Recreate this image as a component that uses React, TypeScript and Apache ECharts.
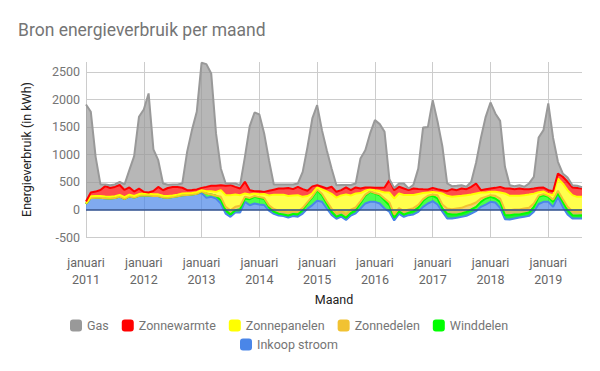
import React, { useEffect, useRef } from 'react';
import * as echarts from 'echarts';

const years = ['2011', '2012', '2013', '2014', '2015', '2016', '2017', '2018', '2019'];
const monthNames = ['januari', 'februari', 'maart', 'april', 'mei', 'juni', 'juli', 'augustus', 'september', 'oktober', 'november', 'december'];
const monthCount = 104;

const inkoopStroom = [
  100, 210, 215, 215, 205, 200, 210, 235, 195, 240, 215, 250,
  260, 255, 245, 245, 220, 215, 225, 240, 260, 265, 270, 285,
  300, 211, 230, 199, 108, -74, -134, -55, -55, 139, 78, 108,
  90, 80, -20, -80, -110, -120, -145, -120, -130, -75, 15, 80,
  158, 140, 18, -100, -170, -130, -190, -110, -70, 18, 110, 140,
  139, 109, 18, -42, -200, -80, -133, -103, -91, -42, 48, 109,
  151, 91, -40, -164, -164, -152, -134, -116, -73, -31, 48, 90,
  139, 127, 30, -176, -182, -164, -146, -134, -116, -42, 100, 139,
  139, 48, 230, 48, -91, -164, -164, -164,
];
const winddelen = [
  0, 0, 0, 0, 0, 0, 0, 0, 0, 0, 0, 0,
  0, 0, 0, 0, 0, 0, 0, 0, 0, 0, 0, 0,
  30, 79, 42, 49, 62, 61, 42, 42, 60, 61, 109, 122,
  120, 110, 60, 40, 35, 30, 35, 40, 45, 70, 100, 140,
  190, 120, 90, 60, 40, 35, 40, 45, 60, 100, 140, 180,
  150, 150, 150, 120, 50, 45, 40, 45, 60, 80, 110, 120,
  97, 109, 60, 89, 73, 61, 61, 73, 73, 79, 91, 109,
  91, 72, 109, 72, 78, 73, 55, 61, 61, 90, 130, 120,
  91, 91, 61, 91, 79, 61, 55, 60,
];
const zonnedelen = [
  0, 0, 0, 0, 0, 0, 0, 0, 0, 0, 0, 0,
  0, 0, 0, 0, 0, 0, 0, 0, 0, 0, 0, 0,
  0, 0, 0, 0, 60, 61, 79, 61, 61, 30, 23, 15,
  15, 20, 35, 50, 55, 60, 55, 55, 45, 35, 20, 15,
  15, 25, 40, 55, 65, 70, 65, 60, 50, 30, 20, 10,
  10, 15, 30, 50, 60, 60, 65, 60, 55, 45, 30, 20,
  24, 60, 70, 93, 97, 109, 103, 109, 90, 79, 60, 31,
  30, 49, 60, 91, 91, 91, 91, 91, 85, 60, 25, 20,
  20, 40, 50, 50, 60, 70, 70, 65,
];
const zonnepanelen = [
  15, 30, 30, 30, 30, 30, 30, 30, 30, 30, 30, 30,
  30, 30, 30, 30, 30, 30, 30, 30, 30, 30, 30, 30,
  20, 43, 61, 72, 121, 212, 273, 224, 194, 60, 62, 45,
  50, 70, 180, 260, 290, 300, 300, 280, 300, 200, 110, 60,
  40, 80, 180, 270, 280, 280, 360, 260, 250, 150, 70, 40,
  50, 60, 110, 180, 290, 265, 290, 260, 240, 200, 110, 60,
  48, 49, 200, 230, 224, 224, 218, 194, 182, 163, 109, 78,
  61, 73, 109, 303, 261, 248, 248, 242, 242, 180, 60, 50,
  30, 81, 223, 284, 303, 293, 269, 269,
];
const zonnewarmte = [
  30, 70, 80, 110, 190, 160, 170, 180, 130, 130, 80, 100,
  30, 25, 60, 135, 100, 145, 155, 140, 105, 55, 55, 50,
  43, 78, 97, 110, 91, 170, 182, 139, 121, 212, 79, 43,
  55, 40, 85, 90, 110, 110, 145, 115, 150, 140, 95, 125,
  39, 47, 54, 127, 106, 96, 125, 96, 110, 84, 60, 30,
  45, 60, 92, 225, 150, 122, 120, 89, 118, 90, 70, 55,
  73, 60, 61, 85, 139, 109, 133, 109, 139, 182, 43, 61,
  60, 72, 103, 91, 133, 121, 133, 109, 97, 93, 80, 70,
  71, 73, 90, 121, 152, 140, 160, 150,
];
const gas = [
  1764, 1465, 631, 100, 30, 50, 45, 55, 100, 315, 644, 1304,
  1498, 1799, 756, 486, 123, 60, 45, 45, 78, 697, 1087, 1410,
  2272, 2230, 2042, 952, 303, 43, 31, 62, 61, 454, 1163, 1430,
  1397, 1062, 556, 95, 75, 75, 65, 85, 63, 314, 798, 1234,
  1454, 1030, 696, 333, 121, 94, 45, 94, 73, 545, 678, 982,
  1230, 1157, 1011, 18, 40, 61, 91, 30, 68, 370, 1122, 1136,
  1594, 1231, 799, 140, 55, 79, 59, 43, 92, 378, 949, 1315,
  1564, 1352, 1199, 395, 61, 55, 61, 43, 104, 213, 914, 1043,
  1576, 967, 213, 61, 79, 40, 40, 25,
];

const yTicks = [-500, 0, 500, 1000, 1500, 2000, 2500];

const categories: string[] = [];
for (let i = 0; i < monthCount; i++) {
  categories.push(monthNames[i % 12] + ' ' + years[Math.floor(i / 12)]);
}

const seriesDefs = [
  { name: 'Inkoop stroom', data: inkoopStroom, color: '#4a86e8' },
  { name: 'Winddelen', data: winddelen, color: '#00ff00' },
  { name: 'Zonnedelen', data: zonnedelen, color: '#f1c232' },
  { name: 'Zonnepanelen', data: zonnepanelen, color: '#ffff00' },
  { name: 'Zonnewarmte', data: zonnewarmte, color: '#ff0000' },
  { name: 'Gas', data: gas, color: '#999999' },
];

export default function App() {
  const ref = useRef<HTMLDivElement>(null);
  useEffect(() => {
    document.body.style.margin = '0';
    if (!ref.current) return;
    const chart = echarts.init(ref.current, null, { renderer: 'svg' });
    const font = 'Roboto, Arial, sans-serif';
    const legendText = { color: '#757575', fontSize: 12.5, fontFamily: font };
    const option: any = {
      animation: false,
      backgroundColor: '#ffffff',
      title: {
        text: 'Bron energieverbruik per maand',
        left: 18,
        top: 21,
        padding: 0,
        textStyle: { color: '#757575', fontSize: 17.5, fontWeight: 'normal', fontFamily: font },
      },
      legend: [
        {
          data: ['Gas', 'Zonnewarmte', 'Zonnepanelen', 'Zonnedelen', 'Winddelen'],
          left: 70,
          top: 319,
          padding: 0,
          itemWidth: 12,
          itemHeight: 12,
          itemGap: 13,
          icon: 'roundRect',
          textStyle: legendText,
        },
        {
          data: ['Inkoop stroom'],
          left: 240,
          top: 338,
          padding: 0,
          itemWidth: 12,
          itemHeight: 12,
          icon: 'roundRect',
          textStyle: legendText,
        },
      ],
      grid: { left: 86, right: 18, top: 62, bottom: 134 },
      xAxis: {
        type: 'category',
        boundaryGap: false,
        data: categories,
        name: 'Maand',
        nameLocation: 'middle',
        nameGap: 56,
        nameTextStyle: { color: '#222222', fontSize: 12.5, fontFamily: font },
        axisLine: { show: false, onZero: false },
        axisTick: { show: false },
        axisLabel: {
          interval: 11,
          margin: 17,
          lineHeight: 17,
          color: '#666666',
          fontSize: 12.5,
          fontFamily: font,
          formatter: (v: string) => v.replace(' ', '\n'),
        },
        splitLine: { show: true, interval: 11, lineStyle: { color: '#cccccc', width: 1 } },
      },
      yAxis: {
        type: 'value',
        min: yTicks[0],
        max: 2680,
        interval: 500,
        name: 'Energieverbruik (in kWh)',
        nameLocation: 'middle',
        nameGap: 53,
        nameTextStyle: { color: '#222222', fontSize: 12.5, fontFamily: font },
        axisLine: { show: false },
        axisTick: { show: false },
        axisLabel: {
          margin: 6,
          color: '#757575',
          fontSize: 12.5,
          fontFamily: font,
          showMaxLabel: false,
          formatter: (v: number) => String(Math.round(v)),
        },
        splitLine: { show: true, showMaxLine: false, lineStyle: { color: '#cccccc', width: 1 } },
      },
      series: seriesDefs.map((s, idx) => ({
        name: s.name,
        type: 'line',
        stack: 'total',
        stackStrategy: 'all',
        data: s.data,
        symbol: 'none',
        showSymbol: false,
        color: s.color,
        lineStyle: { color: s.color, width: 2 },
        areaStyle: { color: s.color, opacity: 0.7 },
        emphasis: { disabled: true },
        z: 2,
        markLine: idx === seriesDefs.length - 1 ? {
          silent: true,
          symbol: 'none',
          label: { show: false },
          lineStyle: { color: '#2e4f8f', width: 1.5, type: 'solid' },
          data: [{ yAxis: 0 }],
        } : undefined,
      })),
    };
    chart.setOption(option);
    return () => chart.dispose();
  }, []);
  return <div ref={ref} style={{ width: 600, height: 371 }} />;
}
